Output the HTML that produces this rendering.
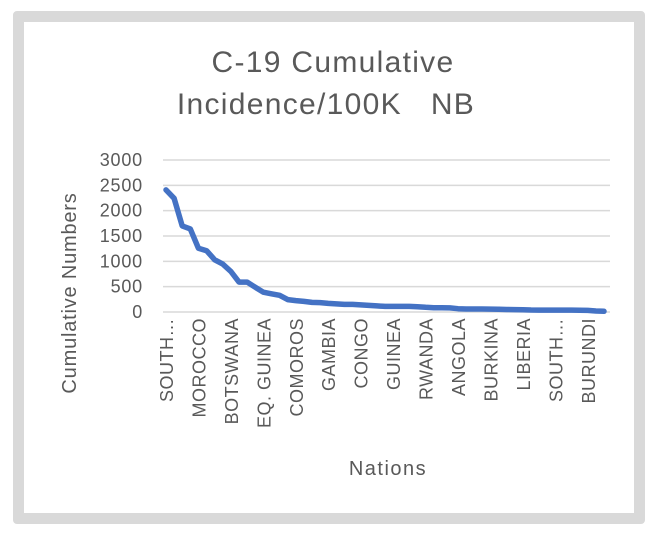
<!DOCTYPE html>
<html><head><meta charset="utf-8"><style>
body{margin:0;background:#fff;width:654px;height:537px;overflow:hidden;font-family:"Liberation Sans",sans-serif}
#frame{position:absolute;left:13px;top:11px;width:610px;height:491px;border:11px solid #d9d9d9;border-radius:4px;background:#fff}
</style></head><body>
<div id="frame"></div>
<svg id="chart" width="654" height="537" style="position:absolute;left:0;top:0">
<text x="333" y="72" text-anchor="middle" font-size="30" letter-spacing="1.3" fill="#595959">C-19 Cumulative</text>
<text x="326" y="114" text-anchor="middle" font-size="30" letter-spacing="1.3" fill="#595959" xml:space="preserve">Incidence/100K   NB</text>
<g id="grid"></g><g id="yt"></g><g id="xt"></g>
<text transform="translate(76,293) rotate(-90)" text-anchor="middle" font-size="20" letter-spacing="0.8" fill="#595959">Cumulative Numbers</text>
<text x="388" y="475" text-anchor="middle" font-size="20" letter-spacing="1.5" fill="#595959">Nations</text>
<path id="line" fill="none" stroke="#4472c4" stroke-width="5.5" stroke-linejoin="round" stroke-linecap="round"></path>
</svg>
<script>
const values=[2410,2245,1700,1640,1260,1210,1030,945,800,590,590,490,390,360,330,245,225,210,190,185,170,160,150,150,140,130,120,110,110,110,110,105,92,85,85,80,65,60,60,60,58,55,50,48,45,40,38,38,38,38,38,36,32,20,13];
const labels=["SOUTH…","MOROCCO","BOTSWANA","EQ. GUINEA","COMOROS","GAMBIA","CONGO","GUINEA","RWANDA","ANGOLA","BURKINA","LIBERIA","SOUTH…","BURUNDI"];
const yTicks=[0,500,1000,1500,2000,2500,3000];
const ns='http://www.w3.org/2000/svg';
const x0=166,x1=604,yb=312,yt=160,ymax=3000;
const X=i=>x0+i*(x1-x0)/(values.length-1);
const Y=v=>yb-(v/ymax)*(yb-yt);
const grid=document.getElementById('grid'),ytg=document.getElementById('yt'),xtg=document.getElementById('xt');
yTicks.forEach(t=>{
 const l=document.createElementNS(ns,'line');
 l.setAttribute('x1',163);l.setAttribute('x2',610);l.setAttribute('y1',Y(t));l.setAttribute('y2',Y(t));
 l.setAttribute('stroke','#d9d9d9');l.setAttribute('stroke-width','1.5');
 
 
 grid.appendChild(l);
 const tx=document.createElementNS(ns,'text');
 tx.setAttribute('x',143);tx.setAttribute('y',Y(t)+6);tx.setAttribute('text-anchor','end');
 tx.setAttribute('font-size','18');tx.setAttribute('letter-spacing','0.8');tx.setAttribute('fill','#595959');tx.textContent=t;
 
 
 ytg.appendChild(tx);
});
labels.forEach((s,k)=>{
 const x=X(k*4);
 const tx=document.createElementNS(ns,'text');
 tx.setAttribute('transform','translate('+(x+7)+',318) rotate(-90)');
 tx.setAttribute('text-anchor','end');tx.setAttribute('font-size','18');tx.setAttribute('letter-spacing','0.5');tx.setAttribute('fill','#595959');
 tx.textContent=s;
 
 
 xtg.appendChild(tx);
});
document.getElementById('line').setAttribute('d',values.map((v,i)=>(i?'L':'M')+X(i).toFixed(1)+','+Y(v).toFixed(1)).join(''));
</script>
</body></html>
